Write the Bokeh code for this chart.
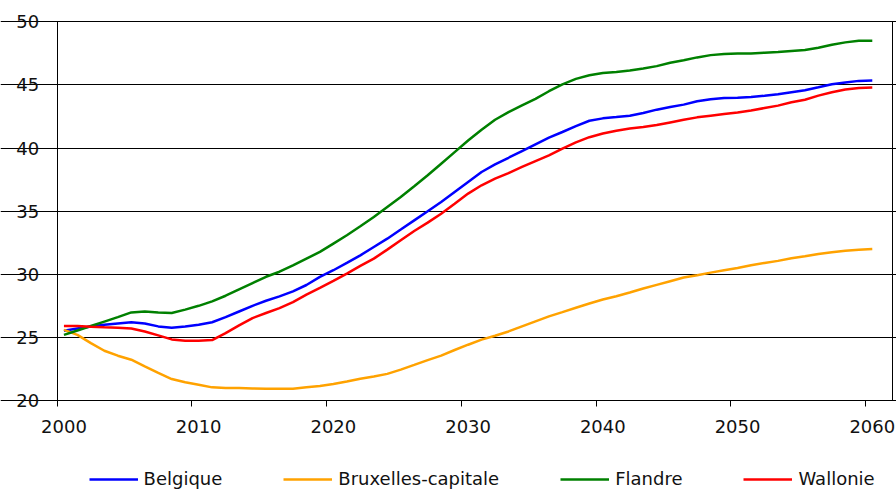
from bokeh.plotting import figure
from bokeh.models import (Range1d, LinearAxis, FixedTicker, Legend, LegendItem,
                          CustomLabelingPolicy)
from bokeh.embed import file_html
from bokeh.resources import INLINE

years = list(range(2000, 2061))

belgique = [25.53, 25.70, 25.87, 26.00, 26.10, 26.19, 26.10, 25.87, 25.77, 25.87,
            26.00, 26.20, 26.60, 27.05, 27.50, 27.90, 28.25, 28.65, 29.15, 29.79,
            30.32, 30.90, 31.50, 32.16, 32.82, 33.54, 34.27, 34.99, 35.73, 36.52,
            37.31, 38.10, 38.71, 39.23, 39.76, 40.29, 40.82, 41.27, 41.73, 42.16,
            42.35, 42.45, 42.56, 42.77, 43.04, 43.25, 43.44, 43.70, 43.86, 43.97,
            43.99, 44.05, 44.15, 44.26, 44.42, 44.58, 44.81, 45.05, 45.20, 45.32,
            45.34]

bruxelles = [25.60, 25.20, 24.55, 23.94, 23.55, 23.23, 22.70, 22.18, 21.70, 21.44,
             21.25, 21.04, 21.00, 21.00, 20.96, 20.94, 20.94, 20.94, 21.05, 21.15,
             21.30, 21.50, 21.72, 21.90, 22.11, 22.45, 22.82, 23.20, 23.56, 24.00,
             24.42, 24.82, 25.13, 25.47, 25.87, 26.27, 26.66, 27.00, 27.35, 27.68,
             28.00, 28.26, 28.55, 28.87, 29.16, 29.45, 29.74, 29.92, 30.13, 30.32,
             30.50, 30.71, 30.90, 31.06, 31.27, 31.42, 31.61, 31.74, 31.87, 31.95,
             32.00]

flandre = [25.20, 25.55, 25.90, 26.25, 26.60, 26.98, 27.06, 26.98, 26.93, 27.20,
           27.50, 27.85, 28.30, 28.80, 29.30, 29.80, 30.20, 30.70, 31.24, 31.77,
           32.43, 33.09, 33.80, 34.54, 35.33, 36.12, 36.97, 37.84, 38.76, 39.68,
           40.60, 41.45, 42.24, 42.85, 43.38, 43.90, 44.50, 45.05, 45.48, 45.77,
           45.95, 46.03, 46.14, 46.30, 46.49, 46.75, 46.96, 47.18, 47.36, 47.44,
           47.49, 47.49, 47.55, 47.60, 47.68, 47.76, 47.94, 48.18, 48.37, 48.50,
           48.50]

wallonie = [25.90, 25.90, 25.84, 25.80, 25.77, 25.70, 25.47, 25.16, 24.84, 24.74,
            24.74, 24.79, 25.34, 25.95, 26.53, 26.93, 27.32, 27.80, 28.39, 28.92,
            29.47, 30.05, 30.66, 31.24, 31.95, 32.69, 33.43, 34.09, 34.80, 35.59,
            36.39, 37.05, 37.57, 38.02, 38.50, 38.97, 39.42, 39.95, 40.45, 40.86,
            41.15, 41.37, 41.55, 41.66, 41.82, 42.03, 42.24, 42.43, 42.56, 42.69,
            42.82, 42.98, 43.17, 43.36, 43.62, 43.83, 44.15, 44.42, 44.63, 44.76,
            44.79]

series_names = ["Belgique", "Bruxelles-capitale", "Flandre", "Wallonie"]
series_values = [belgique, bruxelles, flandre, wallonie]
series_colors = ["#0000FF", "#FFA200", "#008000", "#FF0000"]

x_tick_years = [2000, 2010, 2020, 2030, 2040, 2050, 2060]
y_ticks = [20, 25, 30, 35, 40, 45, 50]
x_min, x_max = 1999.5, 2061.5   # category edges of the plot area
y_min, y_max = 20, 50

FONT = "DejaVu Sans"

# The frame covers the whole figure; axes sit at fixed data positions so that
# tick labels and the legend below the plot area are not clipped.
W, H = 896, 489
PLOT_L, PLOT_R, PLOT_T, PLOT_B = 56.7, 892.0, 21.3, 400.0   # pixel box of plot area
sx = (x_max - x_min) / (PLOT_R - PLOT_L)
sy = (y_max - y_min) / (PLOT_B - PLOT_T)
x_range = Range1d(x_min - PLOT_L * sx, x_max + (W - PLOT_R) * sx)
y_range = Range1d(y_min - (H - PLOT_B) * sy, y_max + PLOT_T * sy)

p = figure(width=W, height=H, output_backend="svg", toolbar_location=None,
           x_range=x_range, y_range=y_range,
           x_axis_location=None, y_axis_location=None, min_border=0)
p.outline_line_color = None
p.background_fill_color = "white"
p.border_fill_color = "white"

# y axis on the left edge of the plot area
yax = LinearAxis(fixed_location=x_min, bounds=(y_min, y_max),
                 ticker=FixedTicker(ticks=y_ticks),
                 major_tick_out=7, major_tick_in=0,
                 minor_tick_out=0, minor_tick_in=0,
                 axis_line_color="black", major_tick_line_color="black",
                 major_label_standoff=11,
                 major_label_text_font=FONT,
                 major_label_text_font_size="18px",
                 major_label_text_color="#111111")
p.add_layout(yax, "left")

# right border of the plot area
ax_right = LinearAxis(fixed_location=x_max, bounds=(y_min, y_max),
                      ticker=FixedTicker(ticks=[]),
                      major_tick_out=0, major_tick_in=0,
                      minor_tick_out=0, minor_tick_in=0,
                      axis_line_color="black")
p.add_layout(ax_right, "right")

p.xgrid.grid_line_color = None
p.ygrid.ticker = FixedTicker(ticks=y_ticks)
p.ygrid.bounds = (x_min, x_max)
p.ygrid.grid_line_color = "black"
p.ygrid.grid_line_width = 1

hide_all = CustomLabelingPolicy(code="""
for (const i of Array.from(indices)) { indices.unset(i) }
return indices
""")

# x axis at y = 20: tick marks on category boundaries ...
ax_ticks = LinearAxis(fixed_location=y_min, bounds=(x_min, x_max),
                      ticker=FixedTicker(ticks=[y - 0.5 for y in x_tick_years]),
                      major_tick_out=6, major_tick_in=0,
                      minor_tick_out=0, minor_tick_in=0,
                      axis_line_color="black", major_tick_line_color="black",
                      major_label_text_font_size="1px", major_label_standoff=0,
                      major_label_policy=hide_all)
# ... and year labels centred on the categories
ax_labels = LinearAxis(fixed_location=y_min,
                       ticker=FixedTicker(ticks=x_tick_years),
                       major_tick_out=0, major_tick_in=0,
                       minor_tick_out=0, minor_tick_in=0,
                       axis_line_color=None, major_tick_line_color=None,
                       major_label_standoff=19,
                       major_label_text_font=FONT,
                       major_label_text_font_size="18px",
                       major_label_text_color="#111111")
p.add_layout(ax_ticks, "below")
p.add_layout(ax_labels, "below")

renderers = []
for vals, col in zip(series_values, series_colors):
    r = p.line(years, vals, line_color=col, line_width=2.5)
    renderers.append(r)

legend = Legend(items=[LegendItem(label=n, renderers=[r])
                       for n, r in zip(series_names, renderers)],
                location=(88.6, 0), orientation="horizontal",
                padding=0, margin=0, spacing=61,
                glyph_width=49, glyph_height=20, label_height=20,
                label_standoff=6,
                label_text_font=FONT, label_text_font_size="18px",
                label_text_color="#111111",
                border_line_alpha=0, background_fill_alpha=0)
p.add_layout(legend, "center")

open("out.html", "w").write(file_html(p, INLINE))
